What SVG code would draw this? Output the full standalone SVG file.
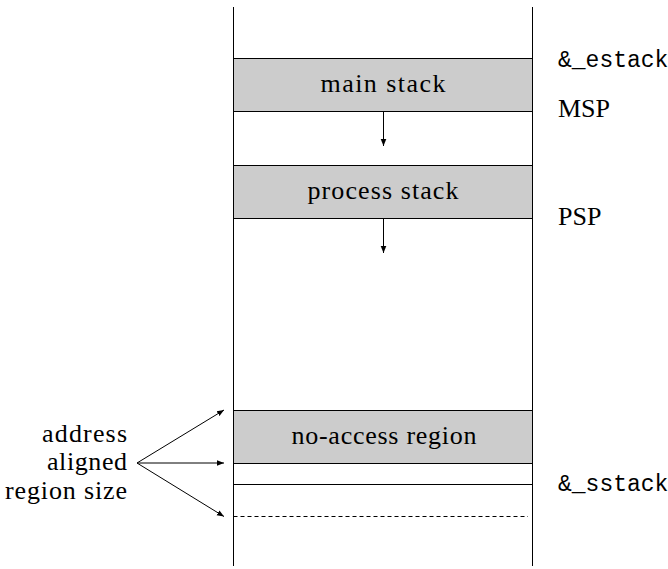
<svg xmlns="http://www.w3.org/2000/svg" width="668" height="569" viewBox="0 0 668 569">
<style>
.ln{stroke:#000;stroke-width:1;fill:none}
.box{fill:#cccccc;stroke:#000;stroke-width:1}
.t{font-family:'Liberation Serif',serif;font-size:26px;fill:#000}
.m{font-family:'Liberation Mono',monospace;font-size:23px;fill:#000}
</style>
<defs>
<marker id="ah" viewBox="0 0 10 10" refX="10" refY="5" markerWidth="7" markerHeight="7" markerUnits="userSpaceOnUse" orient="auto">
<path d="M0,1 L10,5 L0,9 Z" fill="#000"/>
</marker>
</defs>
<g id="memory">
<line class="ln" x1="233.5" y1="7" x2="233.5" y2="566"/>
<line class="ln" x1="532.5" y1="7" x2="532.5" y2="566"/>
</g>
<g id="main-stack">
<rect class="box" x="233.5" y="58.5" width="299" height="53"/>
<text class="t" x="383" y="92" text-anchor="middle" textLength="125" lengthAdjust="spacing">main stack</text>
</g>
<g id="process-stack">
<rect class="box" x="233.5" y="165.5" width="299" height="53"/>
<text class="t" x="383" y="199" text-anchor="middle" textLength="151" lengthAdjust="spacing">process stack</text>
</g>
<g id="no-access">
<rect class="box" x="233.5" y="410.5" width="299" height="53"/>
<text class="t" x="384" y="444" text-anchor="middle" textLength="185" lengthAdjust="spacing">no-access region</text>
</g>
<g id="lines">
<line class="ln" x1="233.5" y1="484.5" x2="532.5" y2="484.5"/>
<line class="ln" x1="233.5" y1="516.5" x2="528" y2="516.5" stroke-dasharray="4,3"/>
</g>
<g id="labels">
<text class="m" x="558" y="67">&amp;_estack</text>
<text class="t" x="558" y="117">MSP</text>
<text class="t" x="558" y="225">PSP</text>
<text class="m" x="558" y="491">&amp;_sstack</text>
<text class="t" x="127" y="442" text-anchor="end" textLength="85" lengthAdjust="spacing">address</text>
<text class="t" x="127" y="470" text-anchor="end" textLength="80" lengthAdjust="spacing">aligned</text>
<text class="t" x="127" y="499" text-anchor="end" textLength="122" lengthAdjust="spacing">region size</text>
</g>
<g id="connectors">
<line class="ln" x1="383.5" y1="111" x2="383.5" y2="146" marker-end="url(#ah)"/>
<line class="ln" x1="383.5" y1="218" x2="383.5" y2="253" marker-end="url(#ah)"/>
<line class="ln" x1="137" y1="463" x2="224" y2="410" marker-end="url(#ah)"/>
<line class="ln" x1="137" y1="463" x2="224" y2="463" marker-end="url(#ah)"/>
<line class="ln" x1="137" y1="463" x2="224" y2="516.5" marker-end="url(#ah)"/>
</g>
</svg>
